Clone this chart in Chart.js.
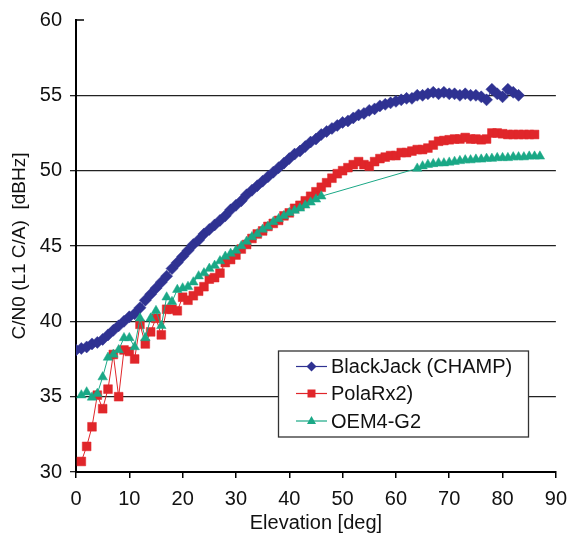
<!DOCTYPE html>
<html><head><meta charset="utf-8">
<script src="https://cdn.jsdelivr.net/npm/chart.js@4/dist/chart.umd.min.js"></script>
<style>html,body{margin:0;padding:0;background:#fff;}#wrap{width:576px;height:535px;}</style>
</head><body><div id="wrap"><canvas id="c" width="576" height="535"></canvas></div>
<script>
const seriesNames = ['BlackJack (CHAMP)', 'PolaRx2)', 'OEM4-G2'];
const xTicks = [0, 10, 20, 30, 40, 50, 60, 70, 80, 90];
const yTicks = [30, 35, 40, 45, 50, 55, 60];

const blueElev = [0,1,2,3,4,5,6,7,8,9,10,11,12,13,14,15,16,17,18,19,20,21,22,23,24,25,26,27,28,29,30,31,32,33,34,35,36,37,38,39,40,41,42,43,44,45,46,47,48,49,50,51,52,53,54,55,56,57,58,59,60,61,62,63,64,65,66,67,68,69,70,71,72,73,74,75,76,77,78,79,80,81,82,83];
const blueCN0 = [38.1,38.2,38.3,38.5,38.6,38.8,39.1,39.4,39.7,40.0,40.3,40.5,40.9,41.4,41.8,42.2,42.6,43.0,43.5,43.9,44.3,44.7,45.1,45.4,45.8,46.1,46.4,46.7,47.0,47.4,47.7,48.0,48.4,48.7,49.0,49.3,49.6,49.9,50.2,50.5,50.8,51.1,51.3,51.6,51.9,52.1,52.4,52.6,52.8,53.0,53.2,53.3,53.5,53.7,53.8,54.0,54.1,54.3,54.4,54.5,54.6,54.7,54.8,54.8,55.0,55.0,55.1,55.2,55.1,55.2,55.1,55.1,55.0,55.1,55.0,55.0,54.9,54.7,55.4,55.1,54.9,55.4,55.2,55.0];

const redElev = [1,2,3,4,5,6,7,8,9,10,11,12,13,14,15,16,17,18,19,20,21,22,23,24,25,26,27,28,29,30,31,32,33,34,35,36,37,38,39,40,41,42,43,44,45,46,47,48,49,50,51,52,53,54,55,56,57,58,59,60,61,62,63,64,65,66,67,68,69,70,71,72,73,74,75,76,77,78,79,80,81,82,83,84,85,86];
const redCN0 = [30.7,31.7,33.0,35.1,34.2,35.5,37.8,35.0,38.1,38.0,37.5,39.8,38.5,39.3,40.2,39.1,40.8,40.8,40.7,41.6,41.4,41.7,42.0,42.3,42.8,42.9,43.2,43.9,44.1,44.4,44.8,45.1,45.5,45.8,46.0,46.3,46.5,46.7,47.0,47.2,47.5,47.7,48.0,48.3,48.6,48.9,49.2,49.5,49.8,50.0,50.2,50.4,50.6,50.4,50.3,50.6,50.8,50.9,51.0,51.0,51.2,51.2,51.3,51.4,51.4,51.5,51.7,51.95,52.0,52.05,52.1,52.1,52.2,52.1,52.1,52.05,52.1,52.5,52.5,52.45,52.4,52.4,52.4,52.4,52.4,52.4];

const greenElev = [1,2,3,4,5,6,7,8,9,10,11,12,13,14,15,16,17,18,19,20,21,22,23,24,25,26,27,28,29,30,31,32,33,34,35,36,37,38,39,40,41,42,43,44,45,46,64,65,66,67,68,69,70,71,72,73,74,75,76,77,78,79,80,81,82,83,84,85,86,87];
const greenCN0 = [35.1,35.3,34.95,35.2,36.3,37.6,37.8,38.1,38.9,38.9,38.3,40.2,38.9,40.2,40.7,39.7,41.6,41.3,42.1,42.2,42.3,42.6,43.0,43.2,43.5,43.7,44.0,44.3,44.5,44.7,45.0,45.3,45.6,45.8,46.1,46.3,46.6,46.8,47.0,47.2,47.35,47.5,47.7,47.9,48.1,48.3,50.15,50.3,50.4,50.45,50.5,50.5,50.55,50.6,50.65,50.7,50.7,50.75,50.75,50.8,50.8,50.85,50.85,50.85,50.9,50.9,50.9,50.95,50.95,50.95];

const BLUE = '#2f3292', RED = '#e0262a', GREEN = '#1aa886';
const FONT = "'Liberation Sans', Arial, Helvetica, sans-serif";

function pts(xs, ys) { return xs.map((x, i) => ({x: x, y: ys[i]})); }

const legendPlugin = {
  id: 'boxLegend',
  afterDraw(chart) {
    const ctx = chart.ctx;
    const ys = chart.scales.y;
    ctx.save();
    ctx.strokeStyle = '#000'; ctx.lineWidth = 1.5;
    const yTop = ys.getPixelForValue(60);
    ctx.beginPath(); ctx.moveTo(chart.chartArea.left, yTop); ctx.lineTo(chart.chartArea.left + 8, yTop); ctx.stroke();
    const bx = 278.5, by = 351, bw = 250, bh = 86;
    ctx.fillStyle = '#fff'; ctx.fillRect(bx, by, bw, bh);
    ctx.strokeStyle = '#333'; ctx.lineWidth = 1.3; ctx.strokeRect(bx, by, bw, bh);
    const rows = [366.5, 393.5, 421];
    const cols = [BLUE, RED, GREEN];
    const shapes = ['diamond', 'square', 'triangle'];
    ctx.font = '20px ' + FONT; ctx.textBaseline = 'middle'; ctx.textAlign = 'left';
    for (let i = 0; i < 3; i++) {
      const y = rows[i];
      ctx.strokeStyle = cols[i]; ctx.lineWidth = 1.2;
      ctx.beginPath(); ctx.moveTo(296, y); ctx.lineTo(327, y); ctx.stroke();
      ctx.fillStyle = cols[i];
      const cx = 311.5;
      ctx.beginPath();
      if (shapes[i] === 'diamond') { ctx.moveTo(cx, y - 5); ctx.lineTo(cx + 5, y); ctx.lineTo(cx, y + 5); ctx.lineTo(cx - 5, y); }
      else if (shapes[i] === 'square') { ctx.rect(cx - 4, y - 4, 8, 8); }
      else { ctx.moveTo(cx, y - 5); ctx.lineTo(cx + 4.5, y + 3); ctx.lineTo(cx - 4.5, y + 3); }
      ctx.closePath(); ctx.fill();
      ctx.fillStyle = '#111';
      ctx.fillText(seriesNames[i], 331, y + 1);
    }
    ctx.restore();
  }
};

new Chart(document.getElementById('c'), {
  type: 'line',
  data: {
    datasets: [
      { label: seriesNames[0], data: pts(blueElev, blueCN0), borderColor: BLUE, backgroundColor: BLUE, borderWidth: 1,
        pointStyle: 'rectRot', pointRadius: 6, pointBorderWidth: 0.5, pointBorderColor: BLUE, order: 2 },
      { label: seriesNames[1], data: pts(redElev, redCN0), borderColor: RED, backgroundColor: RED, borderWidth: 1,
        pointStyle: 'rect', pointRadius: 6.2, pointBorderWidth: 0.5, pointBorderColor: RED, order: 1 },
      { label: seriesNames[2], data: pts(greenElev, greenCN0), borderColor: GREEN, backgroundColor: GREEN, borderWidth: 1,
        pointStyle: 'triangle', pointRadius: 5.5, pointBorderWidth: 0.5, pointBorderColor: GREEN, order: 0 }
    ]
  },
  options: {
    responsive: false, animation: false, devicePixelRatio: 1,
    layout: { padding: { top: 16, right: 18, left: 0, bottom: 0 } },
    plugins: { legend: { display: false }, tooltip: { enabled: false } },
    elements: { line: { tension: 0 } },
    scales: {
      x: {
        type: 'linear', min: 0, max: 90,
        afterBuildTicks: (s) => { s.ticks = xTicks.map(v => ({value: v})); },
        afterFit: (s) => { s.height = 63; },
        border: { display: true, color: '#000', width: 2 },
        grid: { display: true, drawOnChartArea: false, drawTicks: true, tickLength: 6, color: '#000', lineWidth: 1.5 },
        ticks: { color: '#111', font: { family: FONT, size: 20 }, padding: 9, maxRotation: 0 },
        title: { display: true, text: 'Elevation [deg]', color: '#111', font: { family: FONT, size: 20 }, padding: { top: 0, bottom: 0 } }
      },
      y: {
        type: 'linear', min: 30, max: 60,
        afterBuildTicks: (s) => { s.ticks = yTicks.map(v => ({value: v})); },
        afterFit: (s) => { s.width = 76; },
        border: { display: true, color: '#000', width: 2 },
        grid: { display: true, drawOnChartArea: true, drawTicks: true, tickLength: 6,
          color: (c) => (c.tick && c.tick.value === 60) ? 'rgba(0,0,0,0)' : '#222', lineWidth: 1.3 },
        ticks: { color: '#111', font: { family: FONT, size: 20 }, padding: 8 },
        title: { display: true, text: 'C/N0 (L1 C/A)  [dBHz]', color: '#111', font: { family: FONT, size: 19 }, padding: { top: 8, bottom: 0 } }
      }
    }
  },
  plugins: [legendPlugin]
});
</script></body></html>
